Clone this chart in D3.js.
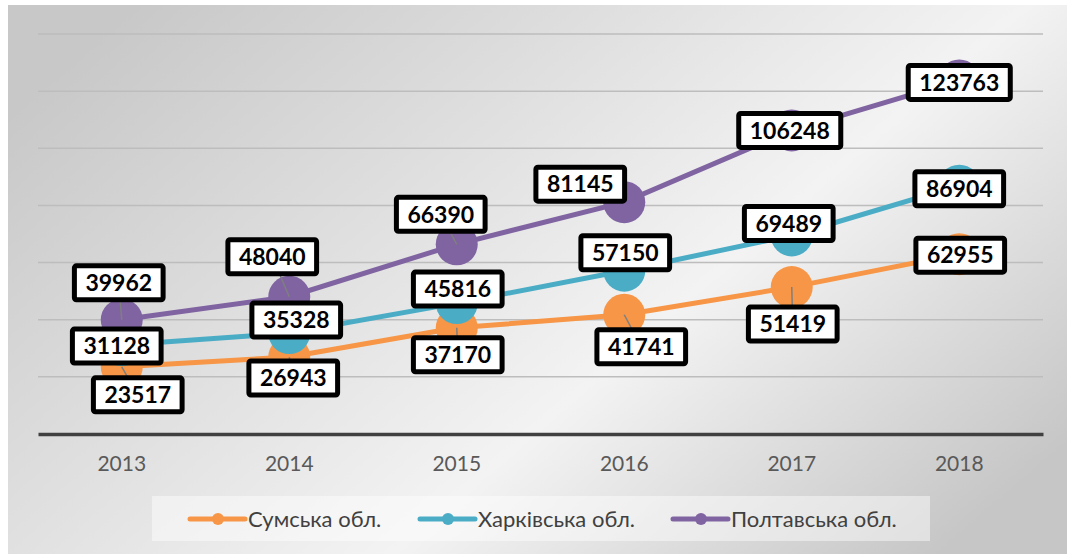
<!DOCTYPE html>
<html>
<head>
<meta charset="utf-8">
<script src="https://cdn.jsdelivr.net/npm/d3@7"></script>
<style>
  body { margin: 0; background: #fff; }
  svg { display: block; }
</style>
</head>
<body>
<svg width="1067" height="554"></svg>
<script>
// data
var years = ["2013", "2014", "2015", "2016", "2017", "2018"];
var sumy = [23517, 26943, 37170, 41741, 51419, 62955];
var kharkiv = [31128, 35328, 45816, 57150, 69489, 86904];
var poltava = [39962, 48040, 66390, 81145, 106248, 123763];
var seriesNames = ["Сумська обл.", "Харківська обл.", "Полтавська обл."];

// layout: where each data label sits relative to its marker
var labelNudge = [
  [[16, 28], [4, 21], [1, 27], [17, 32], [1, 37], [1, 1]],
  [[-5, 1], [7, -13], [1, -14], [1, -18], [-3, -12], [0, 3]],
  [[-3, -37], [-17, -40], [-16, -30], [-44, -18], [-2, 0], [0, 2]]
];
var colors = ["#f79646", "#4bacc6", "#8064a2"];

var svg = d3.select("svg");

var defs = svg.append("defs");
var grad = defs.append("linearGradient")
    .attr("id", "bg")
    .attr("x1", "0%").attr("y1", "20%")
    .attr("x2", "100%").attr("y2", "80%");
grad.append("stop").attr("offset", "0%").attr("stop-color", "#c8c8c8");
grad.append("stop").attr("offset", "62%").attr("stop-color", "#f3f3f3");
grad.append("stop").attr("offset", "100%").attr("stop-color", "#c6c6c6");

svg.append("rect")
    .attr("x", 8).attr("y", 5)
    .attr("width", 1059).attr("height", 549)
    .attr("fill", "url(#bg)");

var x = d3.scaleBand()
    .domain(years)
    .range([38, 1043]);

var y = d3.scaleLinear()
    .domain([0, 140000])
    .range([434, 34]);

// gridlines
svg.append("g")
  .selectAll("line")
  .data(y.ticks(7).filter(function(d) { return d > 0; }))
  .enter().append("line")
    .attr("x1", 38).attr("x2", 1043)
    .attr("y1", function(d) { return y(d); })
    .attr("y2", function(d) { return y(d); })
    .attr("stroke", "#bdbdbd")
    .attr("stroke-width", 1.5);

// category axis
var xAxis = svg.append("g")
    .attr("transform", "translate(0," + y(0) + ")")
    .call(d3.axisBottom(x).tickSize(0).tickPadding(22));
xAxis.select(".domain")
    .attr("stroke", "#404040")
    .attr("stroke-width", 3.5);
xAxis.selectAll("text")
    .attr("fill", "#595959")
    .style("font-family", "Lato, 'Open Sans', sans-serif")
    .style("font-size", "21px");

var series = [sumy, kharkiv, poltava].map(function(vals, i) {
  return {
    name: seriesNames[i],
    color: colors[i],
    points: vals.map(function(v, j) {
      return { year: years[j], value: v, nudge: labelNudge[i][j] };
    })
  };
});

var line = d3.line()
    .x(function(d) { return x(d.year) + x.bandwidth() / 2; })
    .y(function(d) { return y(d.value); });

var seriesG = svg.append("g").selectAll("g")
    .data(series)
    .enter().append("g");

seriesG.append("path")
    .attr("d", function(d) { return line(d.points); })
    .attr("fill", "none")
    .attr("stroke", function(d) { return d.color; })
    .attr("stroke-width", 5)
    .attr("stroke-linecap", "round");

seriesG.selectAll("circle")
    .data(function(d) { return d.points.map(function(p) { p.color = d.color; return p; }); })
    .enter().append("circle")
    .attr("cx", function(d) { return x(d.year) + x.bandwidth() / 2; })
    .attr("cy", function(d) { return y(d.value); })
    .attr("r", 21)
    .attr("fill", function(d) { return d.color; });

// data labels with leader lines
var allPoints = [];
series.forEach(function(s) { s.points.forEach(function(p) { allPoints.push(p); }); });

var leaders = svg.append("g");
var labels = svg.append("g");

allPoints.forEach(function(p) {
  var cx = x(p.year) + x.bandwidth() / 2;
  var cy = y(p.value);
  var lx = cx + p.nudge[0];
  var ly = cy + p.nudge[1];
  if (Math.abs(p.nudge[0]) + Math.abs(p.nudge[1]) > 12) {
    leaders.append("line")
      .attr("x1", cx).attr("y1", cy)
      .attr("x2", lx).attr("y2", ly)
      .attr("stroke", "#7f7f7f")
      .attr("stroke-width", 1.5);
  }
  var g = labels.append("g").attr("transform", "translate(" + lx + "," + ly + ")");
  var box = g.append("rect");
  var t = g.append("text")
    .attr("text-anchor", "middle")
    .attr("dy", "0.36em")
    .style("font-family", "Lato, 'Open Sans', sans-serif")
    .style("font-weight", 700)
    .style("font-size", "23px")
    .attr("fill", "#000")
    .text(p.value);
  var w = t.node().getComputedTextLength() + 22;
  box.attr("x", -w / 2).attr("y", -17)
    .attr("width", w).attr("height", 34)
    .attr("rx", 2)
    .attr("fill", "#fff")
    .attr("stroke", "#000")
    .attr("stroke-width", 5);
});

// legend
var legend = svg.append("g");
legend.append("rect")
    .attr("x", 152).attr("y", 496)
    .attr("width", 778).attr("height", 45)
    .attr("fill", "#ffffff")
    .attr("fill-opacity", 0.45);

var legendX = [190, 420, 673];
series.forEach(function(s, i) {
  var g = legend.append("g").attr("transform", "translate(" + legendX[i] + ",519)");
  g.append("line")
    .attr("x1", 0).attr("x2", 55)
    .attr("stroke", s.color)
    .attr("stroke-width", 5)
    .attr("stroke-linecap", "round");
  g.append("circle")
    .attr("cx", 28).attr("r", 6)
    .attr("fill", s.color);
  g.append("text")
    .attr("x", 58)
    .attr("dy", "0.35em")
    .style("font-family", "Lato, 'Open Sans', sans-serif")
    .style("font-size", "22px")
    .attr("fill", "#404040")
    .text(s.name);
});
</script>
</body>
</html>
